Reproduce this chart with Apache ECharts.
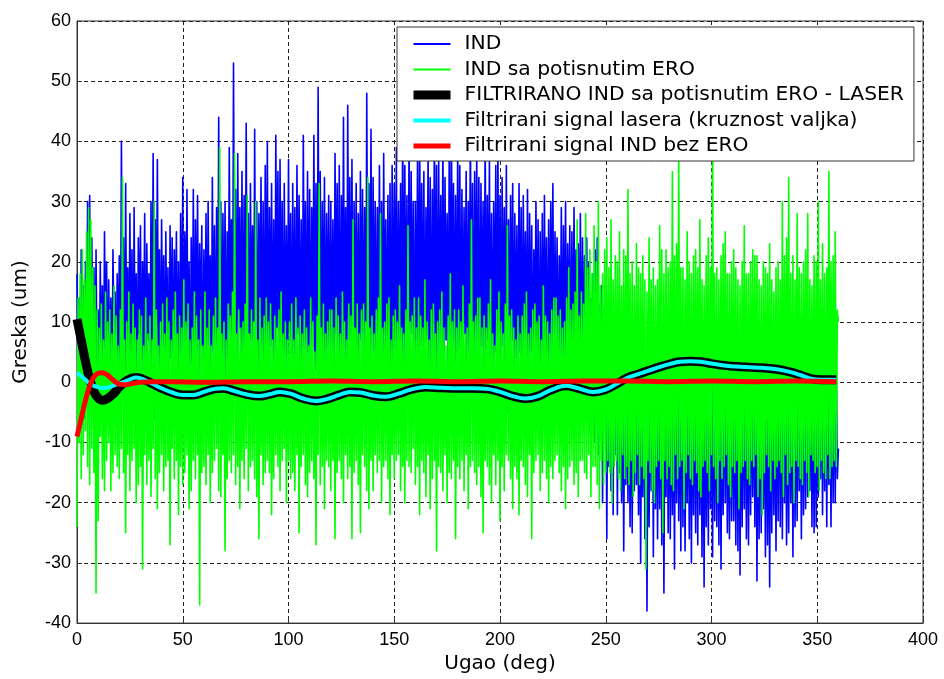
<!DOCTYPE html>
<html>
<head>
<meta charset="utf-8">
<script src="https://cdn.jsdelivr.net/npm/echarts@6/dist/echarts.min.js"></script>
<style>
  html, body { margin: 0; padding: 0; background: #ffffff; }
  #chart { width: 944px; height: 679px; }
</style>
</head>
<body>
<div id="chart"></div>
<script>
// Sampling step of the measured signals, degrees
const sampleStep = 0.5;

// Measured error along the roll circumference (0..360 deg, every 0.5 deg)
const indSignal = [
  18,-5,14,-2,22,4,16,-6,20,2,30,8,31,-4,24,5,19,-7,22,0,
  12,-6,20,3,16,-4,25,6,20,-3,17,1,14,-5,22,7,15,-2,18,4,
  21,-3,40,6,24,-7,33,2,19,-1,28,5,22,-6,29,3,18,-4,24,8,
  26,-2,20,4,28,-5,23,7,18,-3,30,1,38,-6,27,5,37,2,22,-4,
  27,6,21,-2,25,3,19,-7,26,4,24,-3,22,8,25,0,20,-5,28,2,
  34,-4,25,7,32,1,20,-6,24,3,32,-2,27,5,31,-1,23,6,26,-8,
  22,4,28,-3,30,6,21,-1,34,5,26,-4,29,2,44,7,30,-2,28,3,
  30,-5,25,4,39,8,27,-3,53,6,32,-1,38,9,29,2,35,-4,31,6,
  43,1,28,-3,33,7,26,-4,42,5,30,-2,28,8,34,0,30,-5,36,4,
  40,-3,29,6,33,2,27,-4,41,9,35,-1,37,5,30,-6,33,3,26,-2,
  37,7,28,-3,33,4,29,-5,36,8,31,1,27,-4,41,6,30,-2,35,5,
  32,-3,29,6,41,2,33,-5,49,7,35,0,30,4,34,-4,28,6,31,-1,
  30,5,27,-3,38,8,33,2,36,-4,31,6,44,1,29,-5,46,7,34,3,
  37,-4,30,5,33,1,28,-2,35,7,32,0,29,-5,48,6,33,2,42,-3,
  34,5,30,-2,29,8,36,3,30,-4,38,6,27,-1,31,4,33,-6,36,2,
  33,5,39,-3,30,7,33,1,45,-2,36,6,31,-4,41,3,35,8,30,-5,
  30,4,37,-2,43,6,33,1,35,-4,29,7,38,2,34,-3,32,5,44,0,
  36,-5,37,6,31,2,41,-3,34,7,28,1,38,-4,46,5,33,3,31,-2,
  40,6,36,-3,32,4,29,8,35,-2,30,5,43,1,33,-4,35,6,38,2,
  34,-3,33,6,30,2,42,-4,31,7,37,1,28,-2,30,5,36,-3,39,4,
  31,-2,34,6,29,1,36,-5,27,3,31,7,33,-3,28,4,26,-1,33,5,
  29,-3,31,6,25,0,32,-4,28,5,26,-2,22,7,30,1,27,-5,25,3,
  28,-2,31,5,24,-4,27,2,30,6,33,-3,25,4,24,-1,21,5,29,-3,
  26,4,30,-2,23,6,26,-4,25,1,29,5,22,-3,23,2,28,-5,24,3,
  21,-6,24,2,20,-8,14,0,18,-10,22,1,24,-12,13,-3,16,-20,12,-6,
  10,-26,8,-14,12,-18,6,-22,9,-12,11,-22,5,-15,8,-20,6,-28,3,-17,
  9,-20,4,-24,5,-25,2,-18,7,-17,3,-22,5,-30,1,-19,8,-26,4,-38,
  4,-24,6,-18,10,-29,2,-21,1,-26,5,-21,6,-27,3,-35,2,-19,7,-25,
  7,-26,1,-22,5,-31,8,-20,3,-23,4,-28,9,-24,2,-28,-1,-20,5,-26,
  6,-30,3,-22,4,-25,7,-27,8,-22,2,-29,3,-34,5,-24,2,-27,6,-21,
  5,-29,7,-23,3,-24,1,-27,6,-31,4,-22,6,-20,2,-25,1,-26,8,-23,
  4,-23,2,-27,4,-28,6,-32,3,-24,5,-21,7,-26,2,-27,5,-22,3,-19,
  3,-24,6,-33,2,-26,7,-25,4,-21,1,-29,5,-27,4,-34,6,-25,2,-22,
  2,-28,6,-23,8,-24,3,-26,5,-20,3,-27,1,-25,5,-20,4,-29,2,-24,
  4,-23,6,-18,2,-26,5,-22,3,-21,7,-19,2,-18,6,-24,3,-25,5,-24,
  5,-19,2,-16,8,-22,3,-18,4,-24,6,-17,1,-24,6,-20,4,-20,3,-16,
  -11
];

// Same signal with the ERO component suppressed (0..360 deg, every 0.5 deg)
const indNoEro = [
  -24,14,-10,18,-16,22,-12,17,-8,25,-14,29,-17,27,-11,19,-15,16,-35,12,
  -23,9,-9,13,-16,7,-18,15,-13,10,-10,12,-18,8,-15,16,-12,11,-14,6,
  -16,12,-11,34,-15,7,-25,10,-12,15,-18,8,-13,13,-11,9,-20,7,-17,12,
  -14,11,-31,6,-12,14,-17,8,-13,11,-19,7,-11,30,-16,12,-21,6,-15,10,
  -12,13,-18,8,-14,14,-13,10,-27,7,-11,12,-16,15,-13,8,-22,11,-14,9,
  -17,17,-15,10,-12,13,-21,7,-18,9,-13,15,-16,11,-12,7,-37,12,-15,6,
  -14,15,-17,9,-12,12,-20,6,-15,11,-13,14,-11,9,-18,39,-19,8,-12,10,
  -28,7,-16,13,-13,11,-15,15,-12,38,-17,8,-14,12,-21,9,-13,10,-16,13,
  -11,31,-18,8,-14,12,-13,10,-16,30,-19,7,-26,14,-12,9,-17,11,-15,14,
  -13,10,-15,13,-22,7,-16,11,-12,9,-14,12,-18,15,-13,8,-11,10,-20,7,
  -13,10,-16,13,-15,7,-18,14,-12,9,-25,11,-14,8,-12,12,-17,9,-19,6,
  -15,14,-13,10,-16,5,-27,11,-12,33,-17,9,-14,13,-21,8,-13,10,-14,12,
  -18,12,-13,9,-26,14,-15,11,-13,8,-16,15,-20,10,-12,7,-16,13,-14,11,
  -26,27,-15,9,-13,13,-17,8,-25,12,-12,13,-14,10,-18,34,-21,9,-13,11,
  -18,8,-12,12,-15,14,-13,28,-20,9,-14,10,-13,13,-16,14,-22,7,-12,11,
  -16,12,-13,10,-12,16,-18,9,-14,8,-20,12,-13,26,-14,10,-15,11,-11,14,
  -17,9,-14,14,-22,11,-13,9,-15,17,-19,10,-12,7,-21,12,-16,13,-13,8,
  -28,10,-14,12,-15,15,-18,9,-12,6,-20,11,-15,18,-16,10,-13,12,-26,9,
  -14,12,-16,10,-13,16,-18,8,-12,9,-21,13,-14,27,-13,10,-15,11,-17,14,
  -14,14,-19,9,-25,11,-13,9,-14,13,-17,17,-20,8,-12,6,-17,12,-13,15,
  -23,10,-14,8,-18,13,-12,26,-13,11,-16,12,-21,9,-14,7,-16,11,-22,8,
  -13,11,-14,13,-17,15,-19,8,-12,9,-26,12,-15,13,-13,10,-12,11,-18,7,
  -15,16,-13,11,-16,10,-20,8,-14,12,-16,14,-13,14,-12,11,-15,12,-18,9,
  -14,10,-21,14,-16,19,-14,12,-13,13,-17,15,-15,27,-19,11,-13,15,-13,13,
  -15,28,-16,19,-12,22,-19,18,-14,26,-14,20,-17,30,-21,16,-13,18,-17,22,
  -15,24,-13,19,-15,27,-20,17,-14,21,-13,20,-16,25,-18,16,-12,22,-16,21,
  -14,32,-17,18,-13,20,-19,16,-15,23,-12,19,-17,18,-14,21,-16,17,-31,15,
  -13,24,-15,17,-18,19,-20,16,-14,17,-13,26,-16,22,-25,18,-13,22,-16,19,
  -14,20,-17,35,-18,21,-12,23,-16,40,-14,19,-13,19,-21,17,-15,25,-12,20,
  -16,18,-17,21,-13,22,-15,19,-18,27,-19,17,-14,16,-13,21,-15,24,-18,19,
  -12,45,-14,18,-16,19,-20,17,-13,21,-16,23,-14,25,-12,18,-17,18,-19,20,
  -14,22,-15,19,-13,17,-21,16,-15,20,-14,26,-13,18,-16,18,-17,20,-13,22,
  -14,21,-12,21,-19,17,-16,16,-22,20,-15,19,-12,18,-14,23,-18,17,-13,15,
  -16,19,-14,20,-13,17,-15,30,-19,21,-12,24,-17,34,-15,18,-14,21,-20,17,
  -13,28,-14,19,-16,18,-17,20,-13,22,-15,28,-19,17,-12,16,-13,21,-15,20,
  -14,30,-18,17,-13,23,-15,18,-16,19,-12,35,-16,20,-14,21,-13,25,-14,12,
  10
];

// Filtered curves, sampled at the angles listed with them
const filtAngles = [
  0, 2, 4, 6, 8, 10, 12, 14, 17, 20, 24, 28, 32, 36, 40, 45, 50, 55, 60, 65,
  69, 74, 80, 86, 91, 96, 101, 107, 113, 118, 124, 129, 134, 140, 146, 152, 158, 165, 172, 180,
  187, 194, 200, 206, 212, 218, 224, 231, 237, 244, 250, 255, 260, 265, 270, 276, 281, 285, 290, 295,
  300, 306, 312, 318, 324, 330, 336, 342, 347, 352, 356, 359
];
const filtIndMinusLaser = [
  10.5, 7, 3.5, 0.5, -1.5, -2.6, -3.0, -2.8, -2.0, -0.8, 0.4, 0.8, 0.4, -0.3, -1.0, -1.7, -2.1, -2.1, -1.6, -1.1,
  -1.0, -1.4, -2.0, -2.3, -2.0, -1.6, -1.9, -2.7, -3.1, -2.8, -2.1, -1.6, -1.7, -2.2, -2.4, -1.9, -1.2, -0.8, -0.9, -1.0,
  -1.0, -1.1, -1.6, -2.3, -2.7, -2.3, -1.3, -0.6, -1.0, -1.6, -1.2, -0.3, 0.7, 1.3, 1.9, 2.6, 3.1, 3.4, 3.5, 3.4,
  3.1, 2.8, 2.6, 2.5, 2.4, 2.2, 1.8, 1.2, 0.6, 0.4, 0.4, 0.4
];
const filtLaser = [
  1.6, 1.0, 0.4, -0.2, -0.6, -0.8, -1.0, -0.9, -0.6, -0.2, 0.3, 0.8, 0.4, -0.3, -1.0, -1.7, -2.1, -2.1, -1.6, -1.1,
  -1.0, -1.4, -2.0, -2.3, -2.0, -1.6, -1.9, -2.7, -3.1, -2.8, -2.1, -1.6, -1.7, -2.2, -2.4, -1.9, -1.2, -0.8, -0.9, -1.0,
  -1.0, -1.1, -1.6, -2.3, -2.7, -2.3, -1.3, -0.6, -1.0, -1.6, -1.2, -0.3, 0.7, 1.3, 1.9, 2.6, 3.1, 3.4, 3.5, 3.4,
  3.1, 2.8, 2.6, 2.5, 2.4, 2.2, 1.8, 1.2, 0.6, 0.4, 0.4, 0.4
];
const filtNoEroAngles = [0, 2, 4, 6, 8, 10, 12, 14, 16, 18, 20, 23, 26, 30, 35, 45, 60, 80, 100, 120, 140, 160, 180, 200, 220, 240, 260, 280, 300, 320, 340, 359];
const filtIndNoEro = [-9.0, -6.0, -3.0, -0.6, 0.9, 1.5, 1.6, 1.3, 0.7, 0.1, -0.3, -0.4, -0.2, 0.0, 0.1, 0.1, 0.0, 0.1, 0.1, 0.2, 0.1, 0.2, 0.1, 0.2, 0.1, 0.2, 0.2, 0.1, 0.2, 0.1, 0.2, 0.1];

// Axis ranges and tick spacing
const xRange = [0, 400];
const xStep = 50;
const yRange = [-40, 60];
const yStep = 10;

const seriesNames = [
  'IND',
  'IND sa potisnutim ERO',
  'FILTRIRANO IND sa potisnutim ERO - LASER',
  'Filtrirani signal lasera (kruznost valjka)',
  'Filtrirani signal IND bez ERO'
];
const seriesColors = ['#0000ff', '#00ff00', '#000000', '#00ffff', '#ff0000'];
const seriesWidths = [1.6, 1.6, 9, 4, 5];
const legendWidths = [2, 2, 9, 4, 5];

const sampled = arr => arr.map((v, i) => [i * sampleStep, v]);
const pairUp = (xs, ys) => xs.map((x, i) => [x, ys[i]]);

const dataSets = [
  sampled(indSignal),
  sampled(indNoEro),
  pairUp(filtAngles, filtIndMinusLaser),
  pairUp(filtAngles, filtLaser),
  pairUp(filtNoEroAngles, filtIndNoEro)
];

const gridLine = { show: true, lineStyle: { color: '#222', width: 1, type: [4, 3] } };
const frameLine = { show: true, onZero: false, lineStyle: { color: '#333', width: 1 } };
const tickStyle = { show: true, inside: true, length: 5, lineStyle: { color: '#333' } };
const tickFont = { color: '#000', fontFamily: 'Liberation Sans, Arial, sans-serif', fontSize: 18 };
const nameFont = { color: '#000', fontFamily: 'DejaVu Sans, sans-serif', fontSize: 20 };

const chart = echarts.init(document.getElementById('chart'), null, { renderer: 'canvas' });
chart.setOption({
  animation: false,
  backgroundColor: '#ffffff',
  grid: { left: 77, right: 21, top: 21, bottom: 53, show: true, borderColor: '#333', borderWidth: 1 },
  xAxis: {
    type: 'value', min: xRange[0], max: xRange[1], interval: xStep,
    name: 'Ugao (deg)', nameLocation: 'middle', nameGap: 27, nameTextStyle: nameFont,
    axisLine: frameLine, axisTick: tickStyle,
    axisLabel: Object.assign({ margin: 8 }, tickFont),
    splitLine: gridLine
  },
  yAxis: {
    type: 'value', min: yRange[0], max: yRange[1], interval: yStep,
    name: 'Greska (um)', nameLocation: 'middle', nameGap: 46, nameRotate: 90, nameTextStyle: nameFont,
    axisLine: frameLine, axisTick: tickStyle,
    axisLabel: Object.assign({ margin: 6 }, tickFont),
    splitLine: gridLine
  },
  legend: {
    orient: 'vertical', left: 397, top: 27,
    backgroundColor: '#ffffff', borderColor: '#333', borderWidth: 1,
    padding: [7, 10, 5, 12],
    itemWidth: 37, itemHeight: 20, itemGap: 5.5,
    selectedMode: false,
    textStyle: { color: '#000', fontFamily: 'DejaVu Sans, sans-serif', fontSize: 20.3, lineHeight: 20, padding: [0, 0, 0, 9] },
    data: seriesNames.map((n, i) => ({
      name: n,
      lineStyle: { width: legendWidths[i] },
      itemStyle: { color: 'rgba(0,0,0,0)', borderWidth: 0, opacity: 0 }
    }))
  },
  series: seriesNames.map((n, i) => ({
    name: n, type: 'line', data: dataSets[i],
    symbol: 'none', showSymbol: false, smooth: i >= 2 ? 0.4 : false,
    clip: true, z: 2 + i,
    lineStyle: { color: seriesColors[i], width: seriesWidths[i], join: 'round' },
    itemStyle: { color: seriesColors[i] },
    emphasis: { disabled: true }
  }))
});
</script>
</body>
</html>
